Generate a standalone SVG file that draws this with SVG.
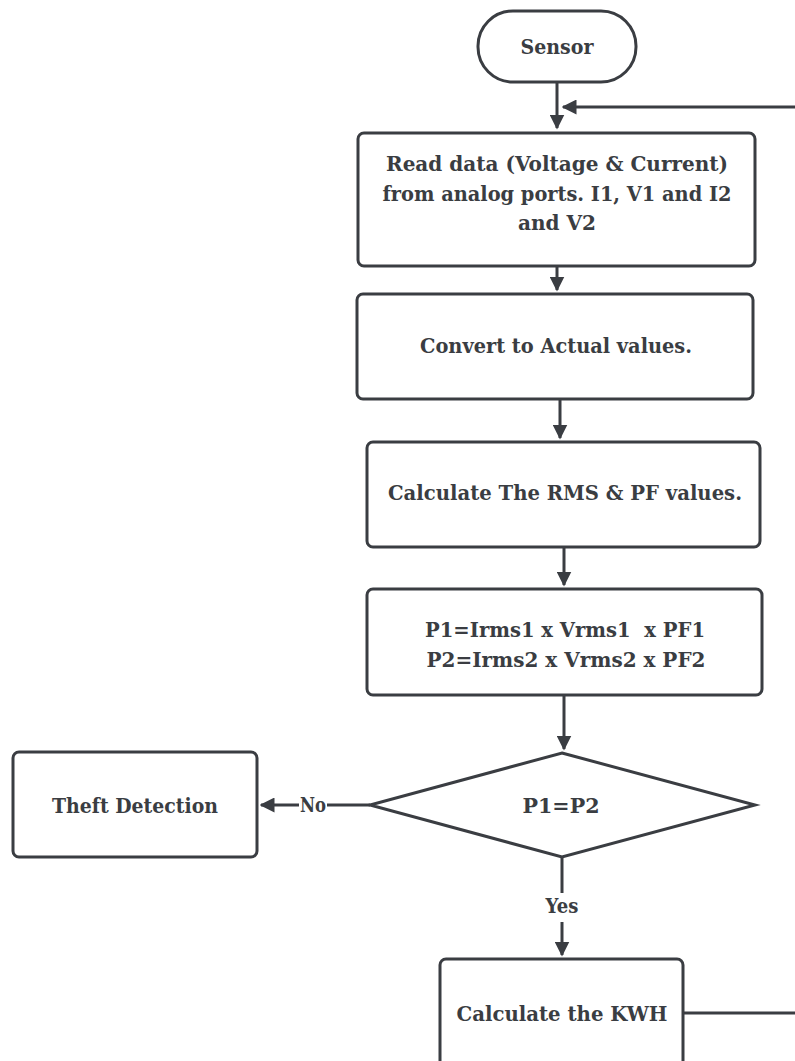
<svg xmlns="http://www.w3.org/2000/svg" width="795" height="1061" viewBox="0 0 795 1061">
<style>
.n{fill:#fff;stroke:#3a3d42;stroke-width:3}
.t{font-family:"DejaVu Serif","Liberation Serif",serif;font-weight:bold;font-size:21px;fill:#3a3d42;text-anchor:middle}
.c{stroke:#3a3d42;stroke-width:3;fill:none}
</style>
<defs>
<marker id="ah" viewBox="0 0 10 10" refX="9" refY="5" markerWidth="5" markerHeight="5" orient="auto" markerUnits="strokeWidth">
<path d="M0,0 L10,5 L0,10 Z" fill="#3a3d42"/>
</marker>
</defs>
<rect width="795" height="1061" fill="#fff"/>
<g id="connectors">
<path class="c" d="M557,82 V128" marker-end="url(#ah)"/>
<path class="c" d="M795,107 H563" marker-end="url(#ah)"/>
<path class="c" d="M557,266 V290" marker-end="url(#ah)"/>
<path class="c" d="M560,399 V438" marker-end="url(#ah)"/>
<path class="c" d="M564,547 V585" marker-end="url(#ah)"/>
<path class="c" d="M564,695 V749" marker-end="url(#ah)"/>
<path class="c" d="M370,805 H327"/>
<path class="c" d="M299,805 H261" marker-end="url(#ah)"/>
<text class="t" x="313" y="812" textLength="26" lengthAdjust="spacingAndGlyphs">No</text>
<path class="c" d="M562,857 V893"/>
<path class="c" d="M562,922 V955" marker-end="url(#ah)"/>
<text class="t" x="562" y="913" textLength="33" lengthAdjust="spacingAndGlyphs">Yes</text>
<path class="c" d="M683,1013 H795"/>
</g>
<g id="sensor">
<rect class="n" x="478" y="11" width="158" height="71" rx="35"/>
<text class="t" x="557" y="54" textLength="73" lengthAdjust="spacingAndGlyphs">Sensor</text>
</g>
<g id="read">
<rect class="n" x="358" y="133" width="397" height="133" rx="6"/>
<text class="t" x="557" y="171" textLength="342" lengthAdjust="spacingAndGlyphs">Read data (Voltage &amp; Current)</text>
<text class="t" x="557" y="201" textLength="349" lengthAdjust="spacingAndGlyphs">from analog ports. I1, V1 and I2</text>
<text class="t" x="557" y="230" textLength="78" lengthAdjust="spacingAndGlyphs">and V2</text>
</g>
<g id="convert">
<rect class="n" x="357" y="294" width="396" height="105" rx="6"/>
<text class="t" x="556" y="353" textLength="272" lengthAdjust="spacingAndGlyphs">Convert to Actual values.</text>
</g>
<g id="rms">
<rect class="n" x="367" y="442" width="393" height="105" rx="6"/>
<text class="t" x="565" y="500" textLength="354" lengthAdjust="spacingAndGlyphs">Calculate The RMS &amp; PF values.</text>
</g>
<g id="power">
<rect class="n" x="367" y="589" width="395" height="106" rx="6"/>
<text class="t" x="565" y="637" textLength="280" lengthAdjust="spacingAndGlyphs" xml:space="preserve">P1=Irms1 x Vrms1  x PF1</text>
<text class="t" x="566" y="667" textLength="279" lengthAdjust="spacingAndGlyphs">P2=Irms2 x Vrms2 x PF2</text>
</g>
<g id="decision">
<polygon class="n" points="562,753 755,805 562,857 370,805"/>
<text class="t" x="561" y="813" textLength="77" lengthAdjust="spacingAndGlyphs">P1=P2</text>
</g>
<g id="theft">
<rect class="n" x="13" y="752" width="244" height="105" rx="6"/>
<text class="t" x="135" y="813" textLength="166" lengthAdjust="spacingAndGlyphs">Theft Detection</text>
</g>
<g id="kwh">
<rect class="n" x="440" y="959" width="243" height="120" rx="6"/>
<text class="t" x="562" y="1021" textLength="211" lengthAdjust="spacingAndGlyphs">Calculate the KWH</text>
</g>
</svg>
